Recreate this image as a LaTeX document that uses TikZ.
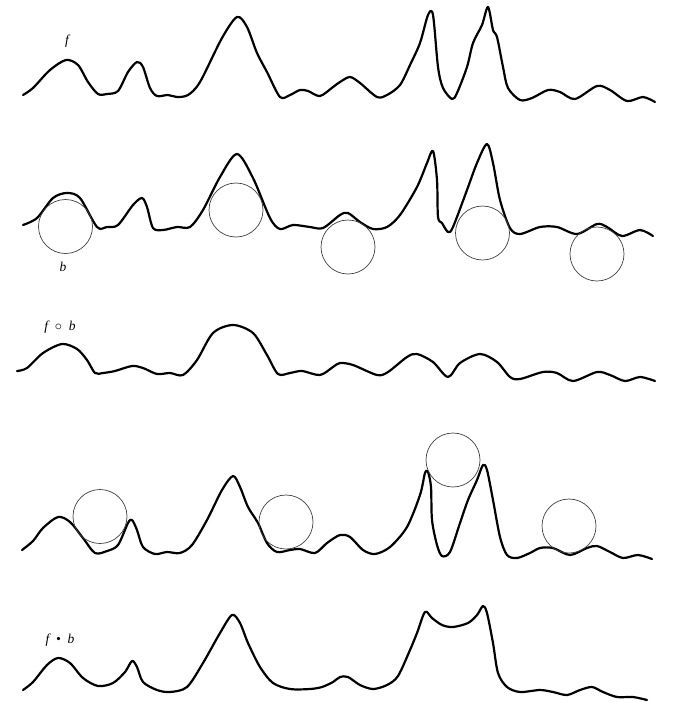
\documentclass[tikz,border=0pt]{standalone}
\usepackage{fontspec}
\setmainfont{Liberation Serif}
\begin{document}
\begin{tikzpicture}[x=1pt,y=-1pt,
  curve/.style={line width=2.2pt, line cap=round, line join=round},
  ball/.style={draw=black!75, line width=0.7pt},
  lbl/.style={inner sep=0pt, font=\fontsize{13.5}{16}\selectfont\itshape}]
\useasboundingbox (0,0) rectangle (681,702);
% Row 1: f
\draw[curve] plot[smooth, tension=0.5] coordinates {
(23,95) (33,88) (50,70) (66,60) (78,65) (88,82) (98,94) (107,94) (118,91) (128,72) (137,62) (143,67) (150,88) (157,96) (168,95) (177,97) (188,95) (200,82) (222,38) (237,17) (247,27) (257,53) (267,72) (280,97) (290,95) (300,90) (308,91) (320,96) (333,87)
(340,82) (350,77) (360,83) (377,97) (387,95) (400,85) (410,65) (420,43) (428,15) (433,15) (438,67) (443,88) (452,99) (457,93) (467,67) (473,43) (482,25) (488,7) (493,30) (497,37) (503,67) (508,88) (520,100) (532,98) (548,90) (560,92) (575,99) (597,86) (610,90) (627,101) (643,97) (655,102)};
\node[lbl] (f1) at (67,41) {f};
% Row 2: f with balls below
\draw[curve] plot[smooth, tension=0.5] coordinates {
(23,225) (37,218) (53,198) (67,193) (80,198) (97,227) (107,227) (118,225) (133,205) (142,198) (147,207) (153,228) (163,230) (177,227) (190,227) (203,210) (220,177) (237,154) (253,178) (270,218) (280,229) (293,225) (310,227) (323,228)
(340,215) (348,213) (360,222) (373,229) (387,227) (400,215) (417,187) (427,163) (433,151) (437,180) (438,217) (442,223) (448,232) (453,227) (467,190) (477,163) (487,144) (493,163) (500,200) (510,228) (520,234) (540,227) (557,227) (577,234) (597,224) (607,227) (622,236) (640,230) (653,236)};
\draw[ball] (65.5,226.5) circle[radius=27];
\draw[ball] (236,210) circle[radius=27];
\draw[ball] (348,247) circle[radius=27];
\draw[ball] (482.5,233) circle[radius=27];
\draw[ball] (597,254) circle[radius=27];
\node[lbl] (b1) at (63,267) {b};
% Row 3: opening f o b
\draw[curve] plot[smooth, tension=0.5] coordinates {
(17,371) (27,368) (43,353) (62,344) (77,349) (87,360) (95,373) (103,373) (115,371) (132,366) (143,368) (157,374) (170,373) (183,375) (197,360) (213,333) (233,325) (253,333) (267,355) (278,374) (290,373) (302,371) (320,375) (333,367)
(340,363) (353,365) (377,375) (388,372) (407,357) (417,354) (433,362) (448,377) (460,363) (480,354) (497,362) (510,377) (520,379) (543,372) (557,373) (573,381) (597,372) (610,375) (625,381) (640,377) (655,381)};
\node[lbl] (fob) at (60,327) {f\enspace$\circ$\enspace b};
% Row 4: f with balls above
\draw[curve] plot[smooth, tension=0.5] coordinates {
(22,550) (33,541) (43,528) (58,517) (70,522) (83,538) (95,553) (107,551) (118,545) (128,523) (132,520) (137,530) (143,547) (155,554) (167,552) (180,553) (192,545) (207,520) (222,490) (233,476) (240,487) (248,507) (258,523) (267,543) (277,552) (290,550) (300,549) (315,553) (327,543)
(340,535) (350,537) (363,550) (375,554) (390,547) (407,527) (420,495) (425,473) (428,472) (431,487) (432,520) (437,545) (442,556) (450,552) (460,523) (468,500) (477,480) (483,465) (487,470) (493,500) (500,537) (507,555) (517,558) (530,553) (540,548) (553,548) (570,555) (587,548) (597,546) (610,552) (623,558) (638,555) (652,559)};
\draw[ball] (100,516.5) circle[radius=27];
\draw[ball] (286,522) circle[radius=27];
\draw[ball] (453,460) circle[radius=27];
\draw[ball] (569,526) circle[radius=27];
% Row 5: closing f . b
\draw[curve] plot[smooth, tension=0.5] coordinates {
(23,690) (33,682) (47,665) (58,658) (70,663) (83,678) (98,686) (113,683) (125,672) (132,661) (137,667) (143,682) (157,690) (170,692) (187,687) (203,663) (220,633) (232,615) (240,623) (248,643) (260,667) (273,683) (290,689) (310,689) (322,687) (333,682)
(340,677) (348,677) (360,685) (373,689) (387,685) (398,676) (410,650) (417,633) (425,612) (432,618) (442,625) (453,627) (468,623) (477,615) (483,606) (487,613) (493,643) (498,673) (507,687) (520,692) (540,690) (553,692) (567,695) (580,690) (592,687) (603,692) (617,697) (633,697) (647,700)};
\node[lbl] (fdb) at (60,640) {f\enspace•\enspace b};
\end{tikzpicture}
\end{document}
